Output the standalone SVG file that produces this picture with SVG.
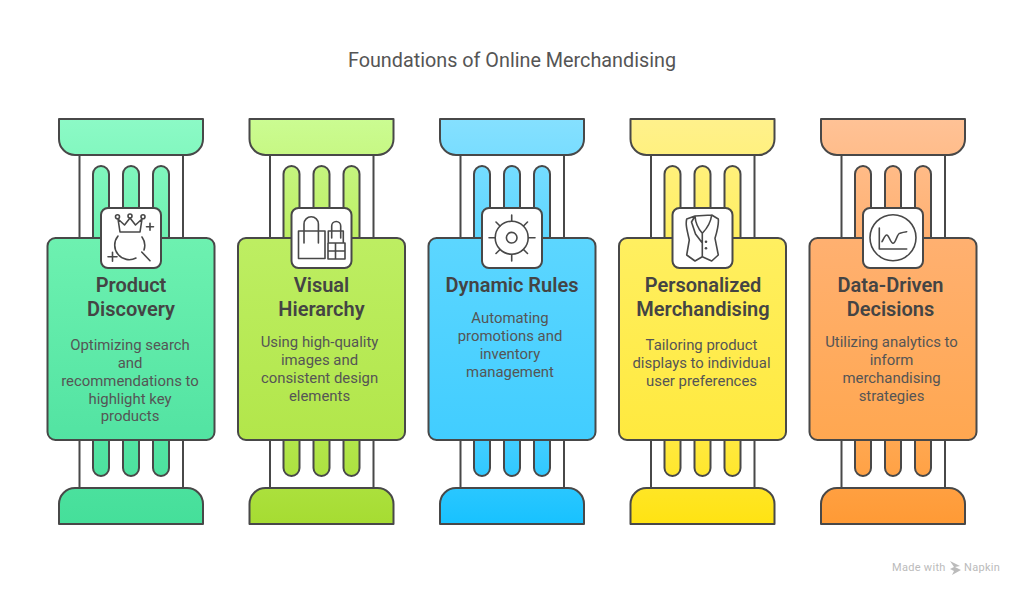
<svg xmlns="http://www.w3.org/2000/svg" width="1024" height="596" viewBox="0 0 1024 596">
<style>
text{font-family:Roboto,"Liberation Sans",sans-serif;text-anchor:middle}
.title{font-size:19.8px;fill:#555}
.h{font-size:20px;font-weight:600;fill:#444}
.b{font-size:14.9px;fill:#555}
.s{stroke:#484848;stroke-width:2;stroke-linejoin:round}
.i{fill:none;stroke:#484848;stroke-width:1.6;stroke-linecap:round;stroke-linejoin:round}
.w{fill:#fff}
.bx{fill:#fff;stroke:#484848;stroke-width:2}
.brand{font-size:11px;fill:#bbb;text-anchor:start;letter-spacing:.3px}
</style>
<defs>
<linearGradient id="g1" gradientUnits="userSpaceOnUse" x1="0" y1="119" x2="0" y2="524"><stop offset="0" stop-color="#8CFAC6"/><stop offset=".3" stop-color="#6DF1B0"/><stop offset=".8" stop-color="#52E3A2"/><stop offset="1" stop-color="#45DF9A"/></linearGradient>
<linearGradient id="g2" gradientUnits="userSpaceOnUse" x1="0" y1="119" x2="0" y2="524"><stop offset="0" stop-color="#CBFC92"/><stop offset=".3" stop-color="#BDEE62"/><stop offset=".8" stop-color="#B2E64A"/><stop offset="1" stop-color="#A6DC32"/></linearGradient>
<linearGradient id="g3" gradientUnits="userSpaceOnUse" x1="0" y1="119" x2="0" y2="524"><stop offset="0" stop-color="#85E0FF"/><stop offset=".3" stop-color="#5CD6FF"/><stop offset=".8" stop-color="#41CDFF"/><stop offset="1" stop-color="#18C2FF"/></linearGradient>
<linearGradient id="g4" gradientUnits="userSpaceOnUse" x1="0" y1="119" x2="0" y2="524"><stop offset="0" stop-color="#FFF18C"/><stop offset=".3" stop-color="#FFEF60"/><stop offset=".8" stop-color="#FFE93E"/><stop offset="1" stop-color="#FFE312"/></linearGradient>
<linearGradient id="g5" gradientUnits="userSpaceOnUse" x1="0" y1="119" x2="0" y2="524"><stop offset="0" stop-color="#FFC296"/><stop offset=".3" stop-color="#FFB070"/><stop offset=".8" stop-color="#FFA750"/><stop offset="1" stop-color="#FF9A35"/></linearGradient>
<g id="pillar">
<rect class="w" x="79.5" y="150" width="103.5" height="345"/>
<path class="s" fill="none" d="M79.5 150V495M183 150V495"/>
<path class="s" d="M93 250V174a8 8 0 0 1 16 0V250ZM123 250V174a8 8 0 0 1 16 0V250ZM153 250V174a8 8 0 0 1 16 0V250Z"/>
<path class="s" d="M93 430V468a8 8 0 0 0 16 0V430ZM123 430V468a8 8 0 0 0 16 0V430ZM153 430V468a8 8 0 0 0 16 0V430Z"/>
<path class="s" d="M59 119H203V139a16 16 0 0 1-16 16H75a16 16 0 0 1-16-16Z"/>
<path class="s" d="M59 524H203V504a16 16 0 0 0-16-16H75a16 16 0 0 0-16 16Z"/>
<rect class="s" x="47.5" y="238" width="167" height="202" rx="8"/>
<rect class="bx" x="101" y="208" width="60" height="60" rx="7"/>
</g>
</defs>
<text class="title" x="512" y="66.500">Foundations of Online Merchandising</text>
<g id="connectors"></g>
<g id="node-product-discovery" fill="url(#g1)">
<use href="#pillar"/>
<path class="i" d="M120 232L118 219 124.500 225 130 218 135.500 225 142 219 140 232ZM120 232H140"/>
<circle class="i" cx="117.500" cy="216.700" r="2"/><circle class="i" cx="130" cy="216" r="2"/><circle class="i" cx="143" cy="216.700" r="2"/>
<path class="i" d="M118 236A14.500 14.500 0 0 0 136 258M142 237A14.500 14.500 0 0 1 144 250M141.700 252L150 260.700M146.500 226.700H153.500M150 223.200V230.200M108 256.700H117M112.500 252.200V261.200"/>
<text class="h" x="131" y="292">Product</text><text class="h" x="131" y="316">Discovery</text>
<text class="b" x="130" y="350">Optimizing search</text><text class="b" x="130" y="368">and</text><text class="b" x="130" y="386">recommendations to</text><text class="b" x="130" y="404">highlight key</text><text class="b" x="130" y="421">products</text>
</g>
<g id="node-visual-hierarchy" fill="url(#g2)" transform="translate(190.500 0)">
<use href="#pillar"/>
<path class="i" d="M134.500 231H108V258.500H134.500ZM113.500 243V224a7.200 7.200 0 0 1 14.400 0V243M137.800 242V231H152.800V242M141.200 238V226a4.500 4.500 0 0 1 9 0V238M137.500 243H154.500V259H137.500ZM137.500 251H154.500M145 243V259"/>
<text class="h" x="131" y="292">Visual</text><text class="h" x="131" y="316">Hierarchy</text>
<text class="b" x="129" y="347">Using high-quality</text><text class="b" x="129" y="365">images and</text><text class="b" x="129" y="383">consistent design</text><text class="b" x="129" y="401">elements</text>
</g>
<g id="node-dynamic-rules" fill="url(#g3)" transform="translate(381 0)">
<use href="#pillar"/>
<circle class="i" cx="130.700" cy="237.700" r="16.500"/><circle class="i" cx="130.700" cy="237.700" r="5.300"/>
<path class="i" d="M130.700 215V221M130.700 254.500V261M108 237.700H114M147.500 237.700H154M115 222L119 226M146.500 222L142.500 226M115 253.500L119 249.500M146.500 253.500L142.500 249.500"/>
<text class="h" x="131" y="292">Dynamic Rules</text>
<text class="b" x="129" y="323">Automating</text><text class="b" x="129" y="341">promotions and</text><text class="b" x="129" y="359">inventory</text><text class="b" x="129" y="377">management</text>
</g>
<g id="node-personalized-merchandising" fill="url(#g4)" transform="translate(571.500 0)">
<use href="#pillar"/>
<path class="i" d="M123.500 216L115.200 219C114 224 115 228 117.800 240L115.200 255 123.500 261 130.800 256.700 140.200 261 146.800 255 143.500 238.300C146 230 147.500 225 146.800 219L140.200 215ZM123.500 216C124 224 127 229 130.800 233.300 135 229 139 224 140.200 215M130.800 233.300V256.700M123.500 216L120 222 124 234 130.800 243"/>
<circle cx="134.500" cy="241.700" r="1.300" fill="#484848"/><circle cx="134.500" cy="248.300" r="1.300" fill="#484848"/>
<text class="h" x="131.500" y="292">Personalized</text><text class="h" x="131.500" y="316">Merchandising</text>
<text class="b" x="130" y="350">Tailoring product</text><text class="b" x="130" y="368">displays to individual</text><text class="b" x="130" y="386">user preferences</text>
</g>
<g id="node-data-driven-decisions" fill="url(#g5)" transform="translate(762 0)">
<use href="#pillar"/>
<circle class="i" cx="131" cy="237.700" r="23"/>
<path class="i" d="M117.300 228V249H144.700M120 241.700C122 238 123 235 124.700 235 127 235 128.500 243.300 131 243.300 134 243.300 135 233.300 138 233.300 140 232.500 142 232 144.700 231.700"/>
<text class="h" x="128.500" y="292">Data-Driven</text><text class="h" x="128.500" y="316">Decisions</text>
<text class="b" x="129.500" y="347">Utilizing analytics to</text><text class="b" x="129.500" y="365">inform</text><text class="b" x="129.500" y="383">merchandising</text><text class="b" x="129.500" y="401">strategies</text>
</g>
<text class="brand" x="892" y="571">Made with</text>
<path d="M950 561l10 5-5 1 6 3-9 5 2-4-4-2 4-2Z" fill="#bbb"/>
<text class="brand" x="964" y="571">Napkin</text>
</svg>
